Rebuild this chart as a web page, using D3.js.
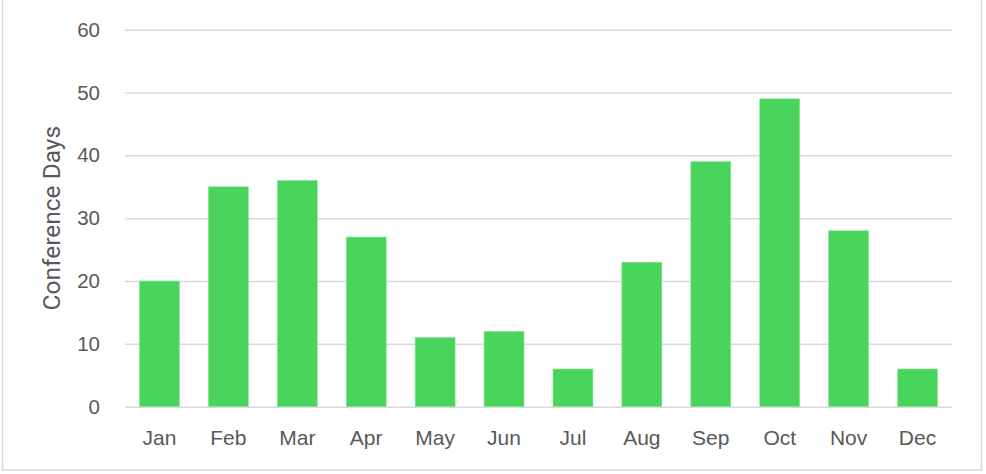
<!DOCTYPE html>
<html>
<head>
<meta charset="utf-8">
<script src="https://cdn.jsdelivr.net/npm/d3@7"></script>
<style>
  body { margin: 0; background: #fff; }
  svg { display: block; font-family: Roboto, "Noto Sans", sans-serif; }
</style>
</head>
<body>
<div id="chart"></div>
<script>
// chart data
const months = ["Jan", "Feb", "Mar", "Apr", "May", "Jun", "Jul", "Aug", "Sep", "Oct", "Nov", "Dec"];
const conferenceDays = [20, 35, 36, 27, 11, 12, 6, 23, 39, 49, 28, 6];
const yTicks = [0, 10, 20, 30, 40, 50, 60];

const width = 986, height = 474;
const margin = {top: 29.7, right: 34, bottom: 67.3, left: 125};
const innerW = width - margin.left - margin.right;
const innerH = height - margin.top - margin.bottom;

const svg = d3.select("#chart")
    .append("svg")
    .attr("width", width)
    .attr("height", height);

// outer frame
svg.append("rect")
    .attr("x", 2.5).attr("y", -2)
    .attr("width", 979).attr("height", 472)
    .attr("fill", "none")
    .attr("stroke", "#d9d9d9")
    .attr("stroke-width", 1.5);

const g = svg.append("g")
    .attr("transform", "translate(" + margin.left + "," + margin.top + ")");

const x = d3.scaleBand()
    .domain(months)
    .range([0, innerW])
    .paddingInner(0.42)
    .paddingOuter(0.21);

const y = d3.scaleLinear()
    .domain([0, 60])
    .range([innerH, 0]);

// gridlines + y labels
const yAxis = g.append("g")
    .call(d3.axisLeft(y).tickValues(yTicks).tickSize(-innerW).tickPadding(25))
    .call(a => a.select(".domain").remove());
yAxis.selectAll(".tick line")
    .attr("stroke", "#d9d9d9")
    .attr("stroke-width", 1.5);
yAxis.selectAll(".tick text")
    .attr("fill", "#595959")
    .style("font-size", "20.5px");

// bars
g.selectAll(".bar")
    .data(conferenceDays)
    .join("rect")
    .attr("class", "bar")
    .attr("x", (d, i) => x(months[i]))
    .attr("y", d => y(d))
    .attr("width", x.bandwidth())
    .attr("height", d => innerH - y(d))
    .attr("fill", "#49d55c")
    .attr("stroke", "#8fe59b")
    .attr("stroke-width", 0.6);

// x labels
const xAxis = g.append("g")
    .attr("transform", "translate(0," + innerH + ")")
    .call(d3.axisBottom(x).tickSize(0).tickPadding(23))
    .call(a => a.select(".domain").remove());
xAxis.selectAll(".tick text")
    .attr("fill", "#595959")
    .style("font-size", "21px");

// y axis title
g.append("text")
    .attr("transform", "rotate(-90)")
    .attr("x", -innerH / 2)
    .attr("y", -65)
    .attr("text-anchor", "middle")
    .attr("fill", "#595959")
    .style("font-size", "24.5px")
    .text("Conference Days");
</script>
</body>
</html>
